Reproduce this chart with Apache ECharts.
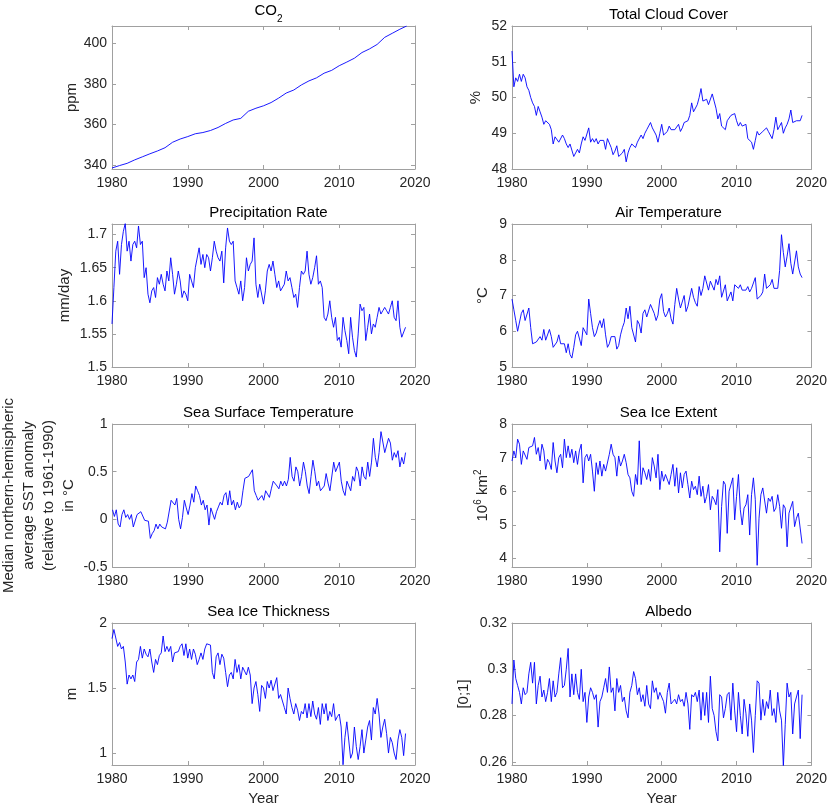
<!DOCTYPE html>
<html>
<head>
<meta charset="utf-8">
<script src="https://cdn.jsdelivr.net/npm/echarts@6/dist/echarts.min.js"></script>
<style>
  html, body { margin: 0; padding: 0; background: #fff; }
  #chart { width: 830px; height: 807px; }
</style>
</head>
<body>
<div id="chart"></div>
<script>
// monthly-ish series at quarter-year steps
const startYear = 1980;
const step = 0.25;

const co2Years = [1980, 1981, 1982, 1983, 1984, 1985, 1986, 1987, 1988, 1989,
    1990, 1991, 1992, 1993, 1994, 1995, 1996, 1997, 1998, 1999,
    2000, 2001, 2002, 2003, 2004, 2005, 2006, 2007, 2008, 2009,
    2010, 2011, 2012, 2013, 2014, 2015, 2016, 2017, 2018, 2018.9];
const co2 = [338.5, 339.7, 340.8, 342.5, 344.0, 345.5, 346.9, 348.5, 351.2, 352.8,
    354.0, 355.4, 356.0, 357.0, 358.5, 360.5, 362.2, 363.0, 366.5, 368.0,
    369.2, 370.8, 373.0, 375.5, 377.0, 379.5, 381.5, 383.0, 385.3, 386.7,
    389.0, 390.8, 392.7, 395.5, 397.3, 399.5, 403.0, 405.0, 407.0, 408.6];

const cloudCover = [
    51.3, 50.3, 50.55, 50.45, 50.65, 50.45, 50.65, 50.55, 50.3, 50.2, 50.0, 49.85,
    49.75, 49.5, 49.75, 49.6, 49.45, 49.25, 49.35, 49.4, 49.25, 49.1, 48.7, 48.9,
    48.85, 48.75, 48.8, 48.95, 48.85, 48.7, 48.6, 48.7, 48.7, 48.35, 48.45, 48.55,
    48.45, 48.7, 48.9, 48.8, 48.8, 49.15, 48.75, 48.85, 48.75, 48.85, 48.7, 48.8,
    48.85, 48.8, 48.55, 48.85, 48.9, 48.6, 48.4, 48.5, 48.65, 48.35, 48.3, 48.45,
    48.55, 48.2, 48.45, 48.6, 48.7, 48.65, 48.6, 48.75, 48.8, 48.95, 48.85, 49.0,
    49.1, 49.05, 49.3, 49.15, 49.1, 48.95, 48.75, 49.0, 49.25, 48.95, 49.0, 49.05,
    49.2, 49.1, 49.15, 49.1, 49.05, 49.25, 49.05, 49.15, 49.3, 49.25, 49.35, 49.5,
    49.85, 49.6, 49.6, 49.8, 50.0, 50.25, 49.9, 49.95, 49.95, 49.8, 49.75, 50.1,
    49.9, 49.7, 49.4, 49.55, 49.2, 49.15, 49.1, 49.35, 49.4, 49.5, 49.45, 49.55,
    49.35, 49.2, 49.3, 49.2, 49.2, 49.25, 48.85, 48.9, 48.75, 48.55, 48.8, 49.05,
    48.95, 49.0, 49.05, 49.1, 49.15, 49.05, 49.0, 48.85, 49.1, 49.45, 49.1, 49.2,
    49.3, 49.0, 49.15, 49.25, 49.4, 49.65, 49.3, 49.3, 49.35, 49.4, 49.35, 49.5];

const precipitation = [
    1.565, 1.62, 1.675, 1.69, 1.64, 1.685, 1.705, 1.717, 1.675, 1.69, 1.66, 1.685,
    1.69, 1.68, 1.713, 1.685, 1.69, 1.635, 1.65, 1.61, 1.597, 1.615, 1.62, 1.605,
    1.635, 1.625, 1.64, 1.625, 1.615, 1.645, 1.63, 1.665, 1.64, 1.61, 1.625, 1.645,
    1.63, 1.605, 1.615, 1.61, 1.6, 1.64, 1.63, 1.62, 1.65, 1.65, 1.68, 1.655,
    1.67, 1.65, 1.67, 1.665, 1.645, 1.665, 1.69, 1.675, 1.665, 1.66, 1.675, 1.627,
    1.68, 1.71, 1.69, 1.685, 1.69, 1.63, 1.62, 1.61, 1.63, 1.6, 1.62, 1.665,
    1.645, 1.655, 1.66, 1.695, 1.625, 1.605, 1.625, 1.625, 1.595, 1.615, 1.645, 1.655,
    1.645, 1.66, 1.64, 1.62, 1.63, 1.615, 1.615, 1.625, 1.645, 1.63, 1.635, 1.62,
    1.605, 1.61, 1.59, 1.62, 1.645, 1.64, 1.645, 1.675, 1.64, 1.625, 1.635, 1.65,
    1.668, 1.625, 1.63, 1.62, 1.575, 1.57, 1.58, 1.6, 1.575, 1.56, 1.575, 1.54,
    1.545, 1.53, 1.575, 1.555, 1.54, 1.52, 1.575, 1.545, 1.525, 1.515, 1.55, 1.595,
    1.585, 1.59, 1.54, 1.56, 1.58, 1.55, 1.565, 1.56, 1.575, 1.59, 1.58, 1.585,
    1.59, 1.585, 1.58, 1.59, 1.6, 1.575, 1.57, 1.6, 1.56, 1.545, 1.548, 1.56];

const airTemperature = [
    6.9, 6.6, 6.3, 6.0, 5.95, 6.5, 6.6, 6.3, 6.3, 6.65, 6.1, 5.65,
    5.65, 5.7, 5.75, 5.85, 5.75, 6.05, 5.75, 5.8, 6.05, 5.85, 5.55, 5.6,
    5.7, 5.9, 5.65, 5.7, 5.65, 5.4, 5.65, 5.35, 5.25, 5.55, 5.9, 6.0,
    5.95, 5.6, 6.1, 6.15, 5.9, 6.9, 6.5, 6.1, 5.85, 5.95, 6.15, 6.3,
    6.1, 6.35, 5.9, 5.55, 5.65, 5.85, 5.8, 5.85, 5.5, 5.6, 5.9, 6.1,
    6.25, 6.65, 6.35, 6.7, 6.1, 6.05, 5.7, 6.3, 6.2, 5.95, 6.5, 6.6,
    6.4, 6.45, 6.75, 6.8, 6.5, 6.3, 6.45, 6.9, 7.05, 6.55, 6.4, 6.5,
    6.65, 6.35, 6.2, 6.75, 7.2, 6.9, 6.65, 6.7, 7.0, 6.55, 6.7, 6.75,
    7.2, 6.95, 6.8, 6.7, 7.25, 7.0, 7.2, 7.55, 7.5, 7.15, 7.4, 7.35,
    7.15, 7.45, 7.3, 7.55, 6.95, 6.9, 7.3, 6.85, 6.8, 7.1, 6.85, 7.3,
    7.3, 7.2, 7.3, 7.15, 7.2, 7.15, 7.25, 7.1, 7.2, 7.35, 7.5, 6.9,
    6.95, 7.0, 7.1, 7.6, 7.2, 7.15, 7.3, 7.45, 7.2, 7.25, 7.2, 7.7,
    8.7, 8.2, 7.8, 8.1, 8.45, 7.9, 7.6, 7.65, 8.25, 7.8, 7.6, 7.5];

const seaSurfaceTemp = [
    0.1, 0.03, 0.1, -0.05, -0.08, 0.05, 0.1, 0.02, 0.05, 0.0, 0.05, -0.08,
    -0.07, 0.05, 0.03, 0.08, 0.07, -0.01, -0.03, -0.02, -0.2, -0.15, -0.12, -0.05,
    -0.1, -0.05, -0.08, -0.06, -0.1, -0.03, -0.02, 0.2, 0.22, 0.15, 0.22, 0.0,
    -0.1, 0.02, 0.2, 0.12, 0.05, 0.15, 0.27, 0.18, 0.35, 0.3, 0.25, 0.15,
    0.2, 0.1, 0.15, -0.06, 0.12, 0.1, 0.0, 0.08, 0.13, 0.18, 0.15, 0.25,
    0.28, 0.15, 0.3, 0.15, 0.2, 0.1, 0.18, 0.12, 0.15, 0.3, 0.43, 0.43,
    0.45, 0.43, 0.52, 0.3, 0.25, 0.2, 0.18, 0.25, 0.2, 0.3, 0.28, 0.23,
    0.32, 0.4, 0.42, 0.35, 0.32, 0.4, 0.35, 0.4, 0.35, 0.42, 0.65, 0.45,
    0.4, 0.55, 0.5, 0.35, 0.45, 0.6, 0.5, 0.35, 0.27, 0.45, 0.62, 0.5,
    0.35, 0.4, 0.3, 0.3, 0.35, 0.48, 0.38, 0.3, 0.32, 0.6, 0.5, 0.5,
    0.6, 0.4, 0.3, 0.25, 0.4, 0.35, 0.3, 0.45, 0.4, 0.55, 0.5, 0.35,
    0.55, 0.45, 0.42, 0.6, 0.45, 0.6, 0.85, 0.65, 0.55, 0.7, 0.92, 0.9,
    0.7, 0.7, 0.85, 0.8, 0.62, 0.7, 0.65, 0.72, 0.55, 0.65, 0.58, 0.7];

const seaIceExtent = [
    6.9, 7.2, 7.0, 7.55, 7.4, 6.8, 7.2, 7.25, 6.95, 7.3, 7.3, 7.35,
    7.6, 7.1, 7.3, 6.9, 7.4, 7.2, 6.65, 6.95, 6.85, 6.65, 7.45, 6.9,
    6.55, 7.0, 7.1, 6.7, 7.55, 7.0, 7.35, 7.0, 7.25, 6.85, 7.2, 6.8,
    7.2, 7.4, 6.25, 7.0, 7.1, 6.9, 7.1, 6.6, 6.0, 6.85, 6.5, 6.9,
    6.45, 6.8, 6.6, 6.65, 7.1, 7.4, 7.1, 7.0, 6.45, 7.05, 6.75, 6.9,
    7.1, 6.85, 6.5, 6.4, 6.0, 5.85, 6.5, 6.2, 7.5, 6.2, 6.7, 6.55,
    6.35, 6.65, 6.3, 7.0, 6.75, 6.4, 7.1, 6.05, 6.6, 6.3, 6.5, 6.45,
    6.2, 6.5, 6.8, 6.15, 6.7, 5.95, 6.55, 6.1, 6.5, 6.6, 6.2, 5.8,
    6.3, 6.05, 6.15, 5.9, 6.45, 5.85, 6.15, 5.65, 5.85, 6.2, 5.45, 5.85,
    5.75, 5.6, 6.05, 4.2, 5.55, 6.3, 6.2, 4.75, 6.0, 6.05, 6.4, 5.15,
    5.85, 6.5, 5.45, 5.0, 5.5, 5.6, 5.9, 4.7, 5.9, 6.4, 5.75, 3.8,
    5.2, 5.9, 6.1, 6.1, 5.35, 5.8, 5.7, 5.85, 5.4, 5.5, 5.9, 5.55,
    4.9, 5.6, 5.5, 4.35, 5.35, 5.4, 5.7, 4.95, 5.2, 5.35, 5.4, 4.45];

const seaIceThickness = [
    1.88, 1.95, 1.95, 1.82, 1.85, 1.8, 1.82, 1.7, 1.53, 1.6, 1.57, 1.6,
    1.55, 1.7, 1.72, 1.82, 1.73, 1.8, 1.76, 1.74, 1.8, 1.7, 1.62, 1.72,
    1.68, 1.75, 1.77, 1.9, 1.78, 1.82, 1.78, 1.82, 1.7, 1.77, 1.76, 1.78,
    1.82, 1.84, 1.75, 1.84, 1.73, 1.8, 1.72, 1.8, 1.76, 1.68, 1.72, 1.77,
    1.72, 1.8, 1.84, 1.83, 1.83, 1.62, 1.57, 1.74, 1.77, 1.68, 1.76, 1.73,
    1.62, 1.51, 1.6, 1.62, 1.57, 1.72, 1.62, 1.68, 1.57, 1.66, 1.66, 1.6,
    1.66, 1.6, 1.38, 1.5, 1.55, 1.45, 1.32, 1.52, 1.5, 1.42, 1.55, 1.5,
    1.56, 1.48, 1.48, 1.58, 1.42, 1.45, 1.45, 1.35, 1.3, 1.5, 1.42, 1.35,
    1.3, 1.38, 1.33, 1.25, 1.32, 1.3, 1.38, 1.27, 1.38, 1.28, 1.4, 1.3,
    1.26, 1.35, 1.22, 1.38, 1.3, 1.38, 1.25, 1.32, 1.28, 1.38, 1.25, 1.28,
    1.3, 1.2, 0.91, 1.12, 1.24, 1.1, 0.96, 1.0, 1.2, 1.05, 0.95, 1.05,
    1.18, 1.0, 1.1, 1.2, 1.25, 1.1, 1.35, 1.3, 1.42, 1.3, 1.12, 1.2,
    1.26, 1.15, 1.0, 1.12, 1.08, 1.0, 0.95, 1.1, 1.18, 1.12, 0.98, 1.15];

const albedo = [
    0.285, 0.304, 0.296, 0.293, 0.29, 0.285, 0.292, 0.289, 0.29, 0.298, 0.303, 0.294,
    0.303, 0.285, 0.293, 0.297, 0.288, 0.291, 0.286, 0.29, 0.296, 0.286, 0.295, 0.288,
    0.29, 0.298, 0.305, 0.292, 0.293, 0.3, 0.309, 0.288, 0.298, 0.289, 0.298, 0.29,
    0.287, 0.3, 0.286, 0.29, 0.277, 0.288, 0.292, 0.29, 0.287, 0.289, 0.275, 0.286,
    0.288, 0.292, 0.296, 0.29, 0.301, 0.29, 0.292, 0.282, 0.296, 0.29, 0.293, 0.286,
    0.288, 0.282, 0.279, 0.29, 0.293, 0.299, 0.296, 0.289, 0.292, 0.286, 0.289, 0.284,
    0.293, 0.285, 0.283, 0.295, 0.29, 0.292, 0.287, 0.29, 0.288, 0.286, 0.281, 0.29,
    0.294, 0.285, 0.286, 0.287, 0.285, 0.289, 0.286, 0.287, 0.284, 0.29, 0.285, 0.274,
    0.289, 0.288, 0.29, 0.286, 0.291, 0.278, 0.29, 0.28, 0.29, 0.277, 0.297, 0.283,
    0.28, 0.273, 0.269, 0.289, 0.288, 0.279, 0.283, 0.289, 0.29, 0.278, 0.294, 0.282,
    0.273, 0.29, 0.28, 0.272, 0.287, 0.281, 0.271, 0.285, 0.278, 0.264, 0.28, 0.295,
    0.294, 0.278, 0.287, 0.28, 0.286, 0.283, 0.291, 0.28, 0.283, 0.277, 0.29, 0.282,
    0.278, 0.258, 0.276, 0.294, 0.288, 0.29, 0.272, 0.285, 0.285, 0.291, 0.27, 0.289];

// tick labels
const yearTicks = [1980, 1990, 2000, 2010, 2020];
const co2Ticks = [340, 360, 380, 400];
const cloudTicks = [48, 49, 50, 51, 52];
const precipTicks = [1.5, 1.55, 1.6, 1.65, 1.7];
const airTicks = [5, 6, 7, 8, 9];
const sstTicks = [-0.5, 0, 0.5, 1];
const extentTicks = [4, 5, 6, 7, 8];
const thicknessTicks = [1, 1.5, 2];
const albedoTicks = [0.26, 0.28, 0.3, 0.32];

function quarterly(values) {
    return values.map(function (v, i) { return [startYear + i * step, v]; });
}

const panels = [
    {title: '{t|CO}{sub|2}', lift: 4, data: co2Years.map(function (y, i) { return [y, co2[i]]; }),
        min: 338, max: 408.6, ticks: co2Ticks, name: '{n|ppm}', gap: 30},
    {title: '{t|Total Cloud Cover}', data: quarterly(cloudCover),
        min: 48, max: 52, ticks: cloudTicks, name: '{n|%}', gap: 26},
    {title: '{t|Precipitation Rate}', data: quarterly(precipitation),
        min: 1.5, max: 1.716, ticks: precipTicks, name: '{n|mm/day}', gap: 37},
    {title: '{t|Air Temperature}', data: quarterly(airTemperature),
        min: 5, max: 9, ticks: airTicks, name: '{n|°C}', gap: 19},
    {title: '{t|Sea Surface Temperature}', data: quarterly(seaSurfaceTemp),
        min: -0.5, max: 1, ticks: sstTicks,
        name: '{n|Median northern-hemispheric}\n{n|average SST anomaly}\n{n|(relative to 1961-1990)}\n{n|in °C}', gap: 34},
    {title: '{t|Sea Ice Extent}', data: quarterly(seaIceExtent),
        min: 3.75, max: 8, ticks: extentTicks, name: '{n|10}{sup|6}{n| km}{sup|2}', gap: 19},
    {title: '{t|Sea Ice Thickness}', data: quarterly(seaIceThickness),
        min: 0.908, max: 2, ticks: thicknessTicks, name: '{n|m}', gap: 30},
    {title: '{t|Albedo}', data: quarterly(albedo),
        min: 0.2586, max: 0.32, ticks: albedoTicks, name: '{n|[0;1]}', gap: 38}
];

const font = 'Liberation Sans, Helvetica, Arial, sans-serif';
const boxColor = '#a0a0a0';
const labelColor = '#262626';
const colLeft = [112, 512];
const rowTop = [26, 224, 424, 623];
const plotW = 303, plotH = 143;

const grids = [], xAxes = [], yAxes = [], titles = [], series = [];
const richText = {
    t: {fontSize: 15, fontWeight: 'normal', color: '#000', fontFamily: font, lineHeight: 18},
    sub: {fontSize: 10, fontWeight: 'normal', color: '#000', fontFamily: font, verticalAlign: 'bottom', lineHeight: 10, padding: [0, 0, -4, 0]},
    n: {fontSize: 15, color: labelColor, fontFamily: font, lineHeight: 20},
    sup: {fontSize: 10, color: labelColor, fontFamily: font, verticalAlign: 'top', lineHeight: 10}
};

function plainNumber(v) {
    return String(Math.round(v * 1000) / 1000);
}

panels.forEach(function (p, k) {
    const col = k % 2, row = Math.floor(k / 2);
    const left = colLeft[col], top = rowTop[row];
    grids.push({left: left, top: top, width: plotW, height: plotH, containLabel: false});
    titles.push({
        text: p.title, left: left + plotW / 2, top: top - 25 - (p.lift || 0), textAlign: 'center',
        textStyle: {fontWeight: 'normal', rich: richText}
    });
    const lastRow = row === 3;
    const tickCommon = {inside: true, length: 4, lineStyle: {color: boxColor}};
    xAxes.push({
        gridIndex: k, type: 'value', position: 'bottom', min: 1980, max: 2020,
        axisLine: {show: true, onZero: false, lineStyle: {color: boxColor}},
        axisTick: Object.assign({customValues: yearTicks}, tickCommon),
        axisLabel: {customValues: yearTicks, formatter: plainNumber, color: labelColor, fontSize: 14, fontFamily: font, margin: 7},
        splitLine: {show: false},
        name: lastRow ? 'Year' : '', nameLocation: 'middle', nameGap: 26,
        nameTextStyle: {color: labelColor, fontSize: 15, fontFamily: font}
    });
    xAxes.push({
        gridIndex: k, type: 'value', position: 'top', min: 1980, max: 2020,
        axisLine: {show: true, onZero: false, lineStyle: {color: boxColor}},
        axisTick: Object.assign({customValues: yearTicks}, tickCommon),
        axisLabel: {show: false}, splitLine: {show: false}
    });
    yAxes.push({
        gridIndex: k, type: 'value', position: 'left', min: p.min, max: p.max,
        axisLine: {show: true, onZero: false, lineStyle: {color: boxColor}},
        axisTick: Object.assign({customValues: p.ticks}, tickCommon),
        axisLabel: {customValues: p.ticks, formatter: plainNumber, color: labelColor, fontSize: 14, fontFamily: font, margin: 5},
        splitLine: {show: false},
        name: p.name, nameLocation: 'middle', nameGap: p.gap, nameRotate: 90,
        nameTextStyle: {align: 'center', rich: richText}
    });
    yAxes.push({
        gridIndex: k, type: 'value', position: 'right', min: p.min, max: p.max,
        axisLine: {show: true, onZero: false, lineStyle: {color: boxColor}},
        axisTick: Object.assign({customValues: p.ticks}, tickCommon),
        axisLabel: {show: false}, splitLine: {show: false}
    });
    series.push({
        type: 'line', xAxisIndex: 2 * k, yAxisIndex: 2 * k, data: p.data,
        showSymbol: false, symbol: 'none', silent: true,
        lineStyle: {color: '#0000ff', width: 0.9}
    });
});

const chart = echarts.init(document.getElementById('chart'));
chart.setOption({
    backgroundColor: '#ffffff',
    animation: false,
    title: titles,
    grid: grids,
    xAxis: xAxes,
    yAxis: yAxes,
    series: series
});
</script>
</body>
</html>
